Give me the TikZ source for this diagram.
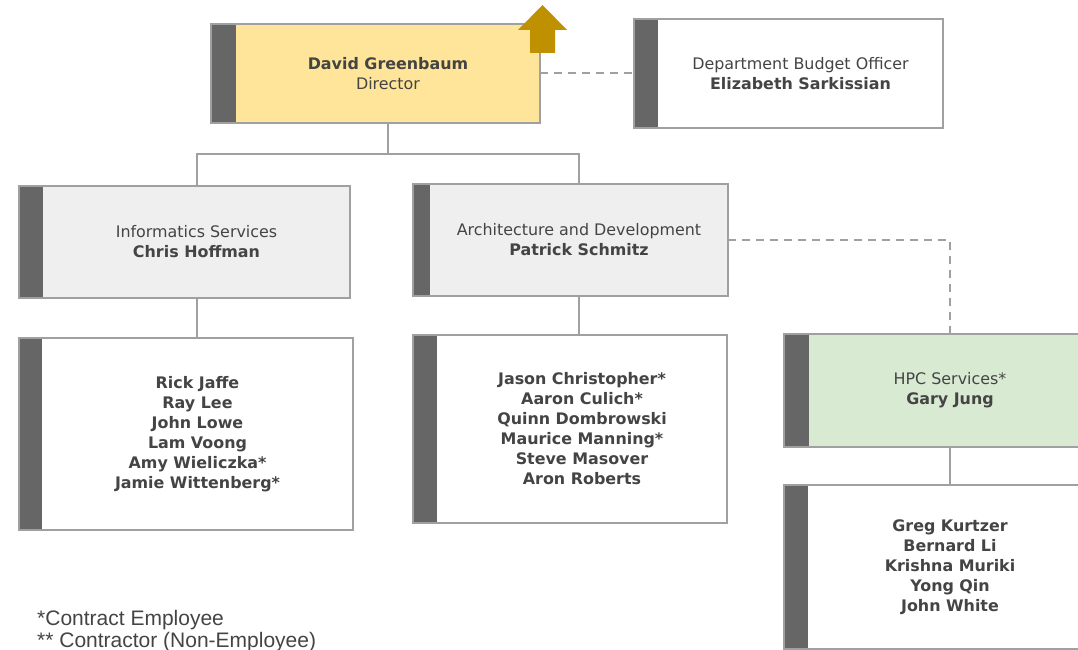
\documentclass[tikz,border=0pt]{standalone}
\usepackage{fontspec}
\usepackage{xcolor}
\usepackage{tikz}
\setmainfont{DejaVu Sans}
\newfontfamily\notefont{Liberation Sans}

\definecolor{textgray}{HTML}{444444}
\definecolor{linkgray}{HTML}{A0A0A0}
\definecolor{barfill}{HTML}{666666}
\definecolor{dirfill}{HTML}{FFE599}
\definecolor{unitfill}{HTML}{EFEFEF}
\definecolor{hpcfill}{HTML}{D9EAD3}
\definecolor{upgold}{HTML}{BF9000}

\tikzset{
  unit/.style={draw=none, align=center, inner sep=0pt, text=textgray,
    font=\fontsize{15.9}{20}\selectfont},
  link/.style={draw=linkgray, line width=2pt},
  dashlink/.style={link, dash pattern=on 8pt off 6pt},
  frame/.style={draw=linkgray, line width=2pt},
  note/.style={align=left, inner sep=0pt, text=textgray,
    font=\notefont\fontsize{21}{22}\selectfont}
}

% dark bar on the left side of a box, and the frame round both
\newcommand{\orgbar}[2]{%
  \fill[barfill] ([xshift=-#2]#1.north west) rectangle (#1.south west);
  \draw[frame] ([xshift=-#2]#1.north west) rectangle (#1.south east);}

\begin{document}
\begin{tikzpicture}[x=1pt, y=-1pt]
  \useasboundingbox (0,0) rectangle (1078,650);
  \clip (0,0) rectangle (1078,650);

  % top row
  \node[unit, fill=dirfill, minimum width=304pt, minimum height=99pt] (dir) at (388,73.5)
    {\textbf{David Greenbaum}\\Director};
  \orgbar{dir}{25pt}

  \node[unit, fill=white, minimum width=285pt, minimum height=109pt] (budget) at (800.5,73.5)
    {Department Budget Officer\\\textbf{Elizabeth Sarkissian}};
  \orgbar{budget}{24pt}

  % units
  \node[unit, fill=unitfill, minimum width=307pt, minimum height=112pt] (info) at (196.5,242)
    {Informatics Services\\\textbf{Chris Hoffman}};
  \orgbar{info}{24pt}

  \node[unit, fill=unitfill, minimum width=298pt, minimum height=112pt] (arch) at (579,240)
    {Architecture and Development\\\textbf{Patrick Schmitz}};
  \orgbar{arch}{17pt}

  \node[unit, fill=hpcfill, minimum width=282pt, minimum height=113pt] (hpc) at (950,390.5)
    {HPC Services*\\\textbf{Gary Jung}};
  \orgbar{hpc}{25pt}

  % staff
  \node[unit, fill=white, minimum width=311pt, minimum height=192pt] (infostaff) at (197.5,434)
    {\textbf{Rick Jaffe}\\\textbf{Ray Lee}\\\textbf{John Lowe}\\\textbf{Lam Voong}\\
     \textbf{Amy Wieliczka*}\\\textbf{Jamie Wittenberg*}};
  \orgbar{infostaff}{23pt}

  \node[unit, fill=white, minimum width=290pt, minimum height=188pt] (archstaff) at (582,429)
    {\textbf{Jason Christopher*}\\\textbf{Aaron Culich*}\\\textbf{Quinn Dombrowski}\\
     \textbf{Maurice Manning*}\\\textbf{Steve Masover}\\\textbf{Aron Roberts}};
  \orgbar{archstaff}{24pt}

  \node[unit, fill=white, minimum width=284pt, minimum height=163pt] (hpcstaff) at (950,567)
    {\textbf{Greg Kurtzer}\\\textbf{Bernard Li}\\\textbf{Krishna Muriki}\\
     \textbf{Yong Qin}\\\textbf{John White}};
  \orgbar{hpcstaff}{24pt}

  % connectors
  \coordinate (split) at (388,154);
  \draw[link] (dir.south) -- (split) -| (info.north);
  \draw[link] (split) -| (arch.north);
  \draw[link] (info.south) -- (info.south |- infostaff.north);
  \draw[link] (arch.south) -- (arch.south |- archstaff.north);
  \draw[link] (hpc.south) -- (hpcstaff.north);
  \draw[dashlink] (dir.east) -- ([xshift=-24pt]budget.west);
  \draw[dashlink] (arch.east) -| (hpc.north);

  % up arrow
  \fill[upgold] (542.5,5) -- (567,30) -- (555,30) -- (555,53) -- (530,53)
    -- (530,30) -- (518,30) -- cycle;

  \node[note, anchor=west] (legend) at (37,631)
    {*Contract Employee\\** Contractor (Non-Employee)};
\end{tikzpicture}
\end{document}
